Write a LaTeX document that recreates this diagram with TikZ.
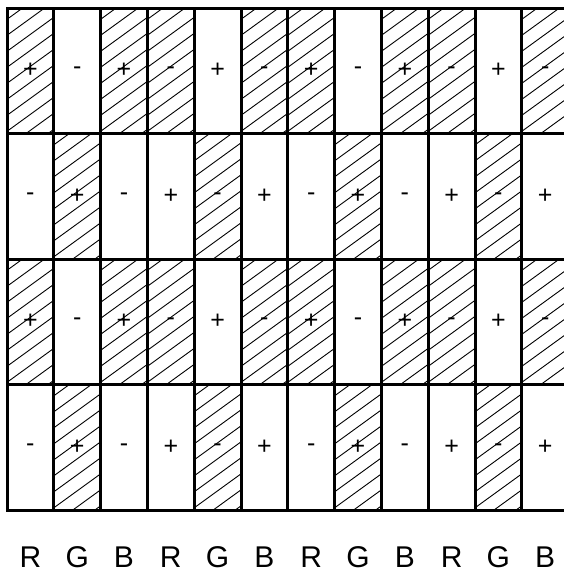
\documentclass[tikz,border=0pt]{standalone}
\usepackage{fontspec}
\setmainfont{Liberation Sans}
\usetikzlibrary{positioning,calc}

\begin{document}
\begin{tikzpicture}[
x=1pt, y=-1pt,
cell/.style={draw, line width=3pt, minimum width=46.8pt, minimum height=125.5pt, inner sep=0pt, font=\fontsize{25}{25}\selectfont},
hatched/.style={path picture={
  \foreach \k in {-3,...,9}
    \draw[line width=0.9pt] ($(path picture bounding box.south west)+(-3pt,{\k*16pt})$) -- ++(62pt,45pt);
}},
shade1/.style={hatched},
shade0/.style={},
lbl/.style={font=\fontsize{30}{30}\selectfont, inner sep=0pt}
]
\useasboundingbox (0,0) rectangle (564,573);

% subpixel cells, 4 rows x 12 columns
\foreach \r in {1,...,4}
  \foreach \c in {1,...,12} {
    \pgfmathtruncatemacro\h{mod(\r,2)==1 ? (mod(\c,3)!=2) : (mod(\c,3)==2)}
    \pgfmathtruncatemacro\p{mod(\r+\c,2)==0}
    \ifnum\p=1 \def\sgn{+}\else\def\sgn{-}\fi
    \node[cell, shade\h] (c\r-\c) at ({7+(\c-0.5)*46.8}, {8+(\r-0.5)*125.5}) {\sgn};
  }

% colour labels
\foreach \c/\t in {1/R,2/G,3/B,4/R,5/G,6/B,7/R,8/G,9/B,10/R,11/G,12/B}
  \node[lbl] (l\c) at ({7+(\c-0.5)*46.8}, 557) {\t};
\end{tikzpicture}
\end{document}
